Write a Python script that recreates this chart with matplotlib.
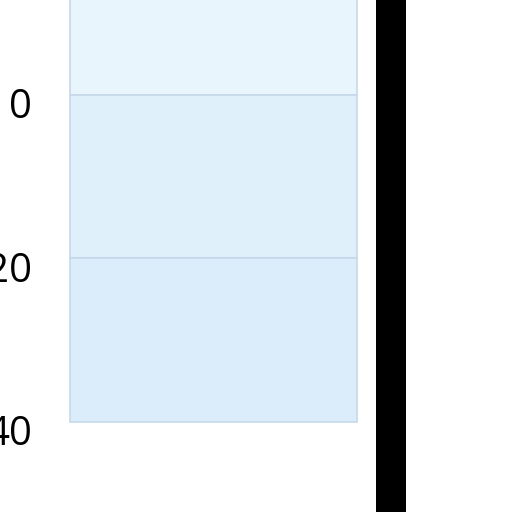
import matplotlib
matplotlib.use("Agg")
import matplotlib.pyplot as plt
from matplotlib.transforms import ScaledTranslation

# stacked segments of the light bar (values grow downward)
seg_bottoms = [-20, 0, 20]
seg_heights = [20, 20, 20]
seg_colors = ['#e8f5fd', '#dff0fb', '#dbedfb']
tick_values = [0, 20, 40]
tick_labels = ['0', '20', '40']

fig = plt.figure(figsize=(5.12, 5.12), dpi=100)
ax = fig.add_axes([40 / 512, 0, 1 - 40 / 512, 1])

ax.set_xlim(-0.977, 1.682)
ax.set_ylim(51, -11.6)

for b, h, c in zip(seg_bottoms, seg_heights, seg_colors):
    ax.bar(0, h, bottom=b, width=1.617, color=c, edgecolor='#c6d9ea', linewidth=1.2)

# dark bar next to it, runs past both edges
y0, y1 = ax.get_ylim()
ax.bar(1, y0 - y1 + 2, bottom=y1 - 1, width=0.169, color='black', linewidth=0)

ax.set_yticks(tick_values)
ax.set_yticklabels(tick_labels, fontsize=29, family='Open Sans')
ax.tick_params(axis='y', length=0, pad=6)
ax.set_xticks([])
for lab in ax.get_yticklabels():
    lab.set_transform(lab.get_transform() + ScaledTranslation(0, -8 / 100, fig.dpi_scale_trans))

for s in ax.spines.values():
    s.set_visible(False)

fig.savefig("out.png", dpi=100)
